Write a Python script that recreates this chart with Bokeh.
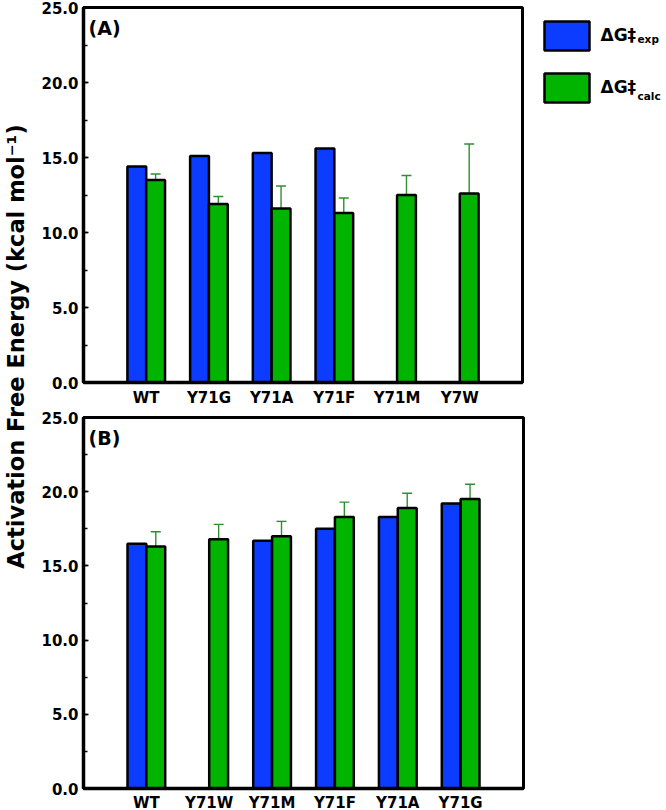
import math
from bokeh.plotting import figure
from bokeh.layouts import row, column
from bokeh.models import (ColumnDataSource, FactorRange, Range1d, Whisker, TeeHead,
                          Label, SingleIntervalTicker, PrintfTickFormatter)
from bokeh.transform import dodge
from bokeh.embed import file_html
from bokeh.resources import INLINE

# ---- data ----
a_cats = ["WT", "Y71G", "Y71A", "Y71F", "Y71M", "Y7W"]
a_exp = [14.4, 15.1, 15.3, 15.6, None, None]
a_calc = [13.5, 11.9, 11.6, 11.3, 12.5, 12.6]
a_err = [0.4, 0.5, 1.5, 1.0, 1.3, 3.3]

b_cats = ["WT", "Y71W", "Y71M", "Y71F", "Y71A", "Y71G"]
b_exp = [16.5, None, 16.7, 17.5, 18.3, 19.2]
b_calc = [16.3, 16.8, 17.0, 18.3, 18.9, 19.5]
b_err = [1.0, 1.0, 1.0, 1.0, 1.0, 1.0]

y_ticks_interval = 5
y_max = 25
y_label = "Activation Free Energy (kcal mol\u207b\u00b9)"
legend_main = "\u0394G\u2021"
legend_subs = ["exp", "calc"]

FONT = "DejaVu Sans"
BLUE = "#0b3cff"
GREEN = "#00b400"
ERR = "#2f8f2f"

LAB_W = 30
FRAME_W = 439


def make_panel(cats, exp, calc, err, tag, top_border, frame_h, frame_w, standoff):
    p = figure(x_range=FactorRange(factors=cats, range_padding=0.5,
                                   range_padding_units="absolute"),
               y_range=Range1d(0, y_max),
               frame_width=frame_w, frame_height=frame_h,
               min_border_left=83 - LAB_W, min_border_right=3,
               min_border_top=top_border, min_border_bottom=0,
               toolbar_location=None, output_backend="svg")
    p.background_fill_color = "white"
    p.border_fill_color = "white"
    p.outline_line_color = "black"
    p.outline_line_width = 3
    p.xgrid.visible = False
    p.ygrid.visible = False

    ex_c = [c for c, v in zip(cats, exp) if v is not None]
    ex_v = [v for v in exp if v is not None]
    src_exp = ColumnDataSource(dict(cat=ex_c, val=ex_v))
    src_calc = ColumnDataSource(dict(
        cat=cats, val=calc,
        upper=[v + e for v, e in zip(calc, err)],
        lower=[v - e for v, e in zip(calc, err)]))

    p.vbar(x=dodge("cat", -0.15, range=p.x_range), top="val", width=0.3,
           source=src_exp, fill_color=BLUE, line_color="black", line_width=2.5)
    p.vbar(x=dodge("cat", 0.15, range=p.x_range), top="val", width=0.3,
           source=src_calc, fill_color=GREEN, line_color="black", line_width=2.5)

    wh = Whisker(base=dodge("cat", 0.15, range=p.x_range), upper="upper", lower="lower",
                 source=src_calc, line_color=ERR, line_width=1.4,
                 upper_head=TeeHead(size=10, line_color=ERR, line_width=1.4),
                 lower_head=TeeHead(size=10, line_color=ERR, line_width=1.4))
    p.add_layout(wh)

    p.yaxis.ticker = SingleIntervalTicker(interval=y_ticks_interval, num_minor_ticks=2)
    p.yaxis.formatter = PrintfTickFormatter(format="%.1f")
    for ax in (p.xaxis, p.yaxis):
        ax.axis_line_width = 3.5
        ax.axis_line_color = "black"
        ax.major_label_text_font = FONT
        ax.major_label_text_font_style = "bold"
        ax.major_label_text_font_size = "15px"
        ax.major_label_text_color = "black"
    p.yaxis.major_tick_in = 5
    p.yaxis.major_tick_out = 0
    p.yaxis.minor_tick_in = 4
    p.yaxis.minor_tick_out = 0
    p.yaxis.major_tick_line_width = 1.5
    p.yaxis.minor_tick_line_width = 1.5
    p.yaxis.major_label_standoff = 5
    p.xaxis.major_tick_line_color = None
    p.xaxis.minor_tick_line_color = None
    p.xaxis.major_tick_in = 0
    p.xaxis.major_tick_out = 0
    p.xaxis.minor_tick_in = 0
    p.xaxis.minor_tick_out = 0
    p.xaxis.major_label_standoff = standoff

    p.add_layout(Label(x=5, y=frame_h - 9, x_units="screen", y_units="screen",
                       text=tag, text_font=FONT, text_font_style="bold",
                       text_font_size="19px", text_baseline="top", text_align="left",
                       text_color="black"))
    return p


pa = make_panel(a_cats, a_exp, a_calc, a_err, "(A)", 7, 375, FRAME_W, 6)
pb = make_panel(b_cats, b_exp, b_calc, b_err, "(B)", 8, 371, FRAME_W + 1, 5)


def blank(w, h, xr, yr):
    f = figure(frame_width=w, frame_height=h, x_range=xr, y_range=yr, title=None,
               x_axis_location=None, y_axis_location=None, min_border=0,
               toolbar_location=None, output_backend="svg")
    f.outline_line_color = None
    f.xgrid.visible = False
    f.ygrid.visible = False
    return f


# legend drawn on its own small canvas to the right of panel A (pixel space, y down)
LEG_W = 666 - LAB_W - (83 - LAB_W) - FRAME_W - 3
LEG_H = 130
leg = blank(LEG_W, LEG_H, Range1d(0, LEG_W), Range1d(LEG_H, 0))
key_left, key_w, key_h, key_tops = 19, 45, 29, [14, 66]
leg.quad(left=[key_left] * 2, right=[key_left + key_w] * 2,
         top=key_tops, bottom=[t + key_h for t in key_tops],
         fill_color=[BLUE, GREEN], line_color="black", line_width=2.5)
main_baselines = [27, 79]
sub_baselines = [31.5, 88]
for i, sub in enumerate(legend_subs):
    leg.add_layout(Label(x=key_left + key_w + 11, y=main_baselines[i], text=legend_main,
                         text_font=FONT, text_font_style="bold", text_font_size="17px",
                         text_baseline="alphabetic", text_align="left", text_color="black"))
    leg.add_layout(Label(x=key_left + key_w + 11 + 37, y=sub_baselines[i], text=sub,
                         text_font=FONT, text_font_style="bold", text_font_size="10.5px",
                         text_baseline="alphabetic", text_align="left", text_color="black"))

LH = 790
lab = blank(LAB_W, LH, Range1d(0, LAB_W), Range1d(LH, 0))
lab.add_layout(Label(x=15.5, y=346, text=y_label, angle=math.pi / 2,
                     text_font=FONT, text_font_style="bold", text_font_size="22.5px",
                     text_align="center", text_baseline="middle", text_color="black"))

layout = row(lab, column(row(pa, leg, spacing=0), pb, spacing=0), spacing=0)
open("out.html", "w").write(file_html(layout, INLINE))
